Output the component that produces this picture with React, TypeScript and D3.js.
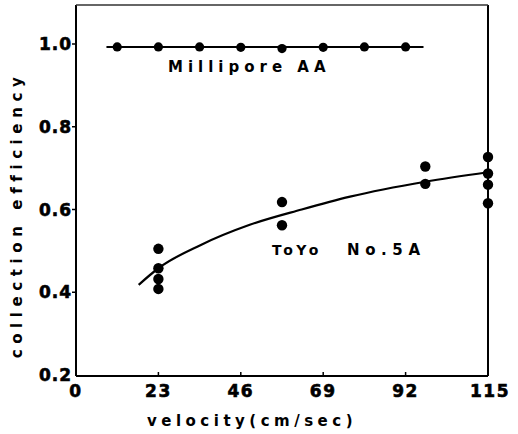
import React from "react";
import * as d3 from "d3";

const xTicks = [0, 23, 46, 69, 92, 115];
const yTicks = [0.2, 0.4, 0.6, 0.8, 1.0];

const milliporeVel = [11.5, 23, 34.5, 46, 57.5, 69, 80.5, 92];
const milliporeEff = [0.993, 0.993, 0.993, 0.992, 0.989, 0.992, 0.993, 0.993];
const milliporeLine = [[8.5, 0.993], [97, 0.993]];

const toyoVel = [23, 23, 23, 23, 57.5, 57.5, 97.5, 97.5, 115, 115, 115, 115];
const toyoEff = [0.505, 0.458, 0.432, 0.408, 0.618, 0.562, 0.704, 0.662, 0.727, 0.687, 0.66, 0.615];

const fitVel = [17.5, 23, 35, 48.5, 63, 76.5, 97.5, 115];
const fitEff = [0.418, 0.458, 0.515, 0.563, 0.6, 0.631, 0.667, 0.69];

const W = 518;
const H = 434;
const left = 76, right = 488, top = 5, bottom = 376;

export default function App() {
  const x = d3.scaleLinear().domain([0, 115]).range([left, right]);
  const y = d3.scaleLinear().domain([0.2, 1.0]).range([375, 44]);
  const fit = d3
    .line<[number, number]>()
    .x((d) => x(d[0]))
    .y((d) => y(d[1]))
    .curve(d3.curveMonotoneX)(fitVel.map((v, i) => [v, fitEff[i]] as [number, number]));
  const font = "'DejaVu Sans', sans-serif";
  return (
    <div style={{ position: "fixed", left: 0, top: 0 }}>
      <svg width={W} height={H} style={{ display: "block", background: "#fff" }}>
        <g stroke="#000" fill="none">
          <line x1={left} y1={top} x2={left} y2={bottom} strokeWidth={2} />
          <line x1={left} y1={bottom} x2={right} y2={bottom} strokeWidth={2} />
          <line x1={right} y1={top} x2={right} y2={bottom} strokeWidth={2} />
          <line x1={left} y1={top} x2={right} y2={top} strokeWidth={1.3} stroke="#333" />
          {yTicks.slice(1).map((t) => (
            <line key={t} x1={left - 4} x2={left} y1={y(t)} y2={y(t)} strokeWidth={1.5} />
          ))}
          {xTicks.slice(1, 5).map((t) => (
            <line key={t} x1={x(t)} x2={x(t)} y1={bottom} y2={bottom - 4} strokeWidth={1.5} />
          ))}
        </g>
        <g fontFamily={font} fontWeight="bold" fontSize={17} fill="#000" stroke="#000" strokeWidth={0.6}>
          {yTicks.map((t) => (
            <text key={t} x={72} y={y(t) + 6} textAnchor="end" letterSpacing={1}>
              {t.toFixed(1)}
            </text>
          ))}
          {xTicks.map((t) => (
            <text key={t} x={x(t) + (t === 115 ? 2 : 0)} y={397} textAnchor="middle" letterSpacing={1.5}>
              {t}
            </text>
          ))}
        </g>
        <text
          x={252}
          y={426}
          textAnchor="middle"
          fontFamily={font}
          fontWeight="bold"
          fontSize={15}
          letterSpacing={4.5}
        >
          velocity(cm/sec)
        </text>
        <text
          transform={`translate(22,215) rotate(-90)`}
          textAnchor="middle"
          fontFamily={font}
          fontWeight="bold"
          fontSize={15}
          letterSpacing={5.6}
        >
          collection efficiency
        </text>
        <line
          x1={x(milliporeLine[0][0])}
          x2={x(milliporeLine[1][0])}
          y1={y(milliporeLine[0][1])}
          y2={y(milliporeLine[1][1])}
          stroke="#000"
          strokeWidth={2}
        />
        {milliporeVel.map((v, i) => (
          <circle key={i} cx={x(v)} cy={y(milliporeEff[i])} r={4.6} fill="#000" />
        ))}
        <path d={fit ?? ""} stroke="#000" strokeWidth={2.2} fill="none" />
        {toyoVel.map((v, i) => (
          <circle key={i} cx={x(v)} cy={y(toyoEff[i])} r={5.2} fill="#000" />
        ))}
        <text x={168} y={72} fontFamily={font} fontWeight="bold" fontSize={15} letterSpacing={5}>
          Millipore AA
        </text>
        <text x={272} y={255} fontFamily={font} fontWeight="bold" fontSize={14} letterSpacing={3.5}>
          ToYo
        </text>
        <text x={347} y={255} fontFamily={font} fontWeight="bold" fontSize={15} letterSpacing={5.6}>
          No.5A
        </text>
      </svg>
    </div>
  );
}
